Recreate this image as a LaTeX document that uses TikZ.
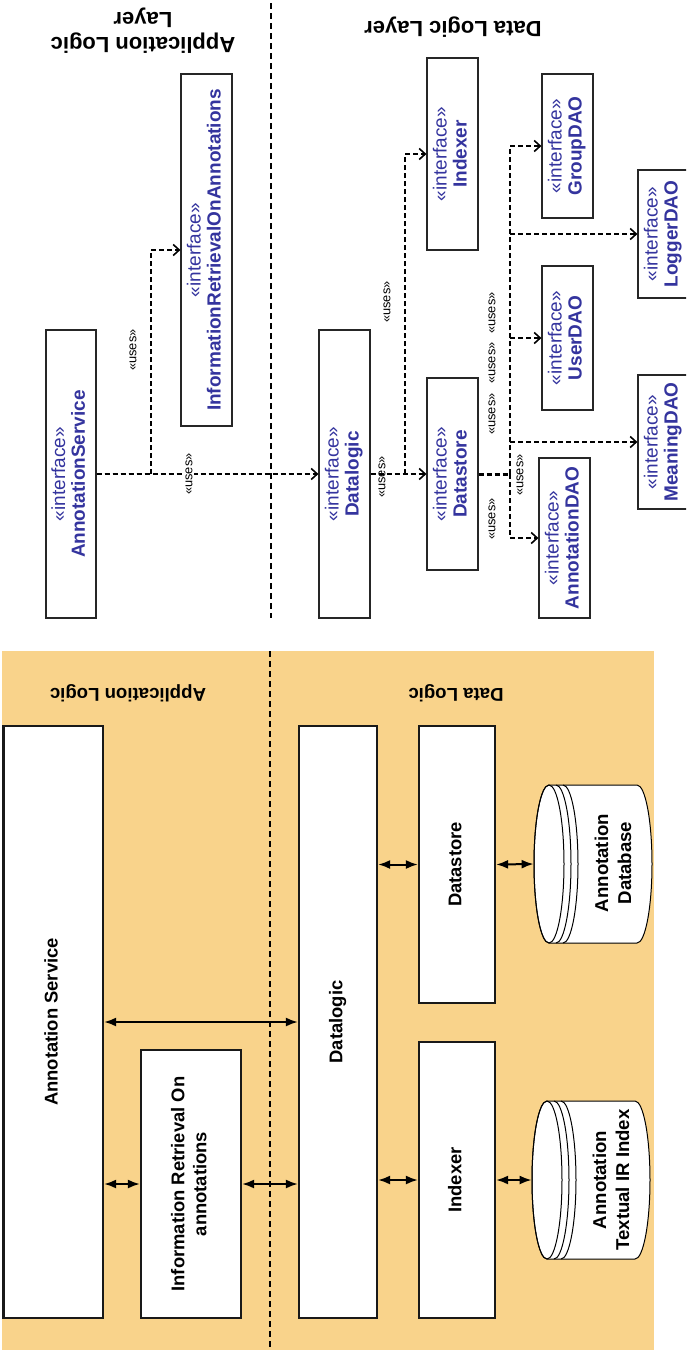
\documentclass[tikz,border=0pt]{standalone}
\usepackage{fontspec}
\setmainfont{Liberation Sans}
\usetikzlibrary{arrows.meta}
\definecolor{ifblue}{RGB}{52,52,158}
\definecolor{bgor}{RGB}{249,211,139}
\newcommand{\ifc}[1]{\rotatebox{90}{\begin{tabular}{@{}c@{}}«interface»\\\textbf{#1}\end{tabular}}}
\newcommand{\rot}[1]{\rotatebox{90}{\begin{tabular}{@{}c@{}}#1\end{tabular}}}
\newcommand{\cyl}[2]{%
  \draw[line width=0.5pt, fill=white] (#1,#2-79) -- (#1+88,#2-79)
    arc[start angle=90,end angle=-90,x radius=7.5pt,y radius=39.5pt]
    -- (#1,#2+79)
    arc[start angle=270,end angle=90,x radius=7.5pt,y radius=39.5pt] -- cycle;
  \draw[line width=0.5pt] (#1,#2) ellipse [x radius=7.5pt, y radius=39.5pt];
  \draw[line width=0.5pt] (#1+7,#2-79) arc[start angle=90,end angle=-90,x radius=7.5pt,y radius=39.5pt];
  \draw[line width=0.5pt] (#1+14,#2-79) arc[start angle=90,end angle=-90,x radius=7.5pt,y radius=39.5pt];
}
\begin{document}
\begin{tikzpicture}[x=0.5pt,y=-0.5pt,
  ifbox/.style={draw=black!85, line width=0.6pt, fill=white, inner sep=0pt, text=ifblue, font=\fontsize{9.5}{10}\selectfont},
  blbox/.style={draw=black!90, line width=1.1pt, fill=white, inner sep=0pt, font=\bfseries\fontsize{9.2}{11}\selectfont},
  uses/.style={font=\fontsize{6.4}{7}\selectfont, rotate=90, inner sep=0.5pt},
  conn/.style={line width=0.8pt, dash pattern=on 2.5pt off 1.5pt, -{Straight Barb[length=3pt,width=5.5pt]}},
  plainconn/.style={line width=0.8pt, dash pattern=on 2.5pt off 1.5pt},
  dbl/.style={line width=1pt, {Latex[length=6pt,width=4.5pt]}-{Latex[length=6pt,width=4.5pt]}},
  layerline/.style={line width=0.6pt, dash pattern=on 3pt off 2pt},
  title/.style={font=\bfseries\fontsize{11}{12.5}\selectfont, rotate=180, align=center},
  btitle/.style={font=\bfseries\fontsize{9.3}{11}\selectfont, rotate=180},
  dbtext/.style={font=\bfseries\fontsize{9.3}{11.5}\selectfont},
]
\path[use as bounding box] (0,0) rectangle (686,1350);
\clip (0,0) rectangle (686,1350);
\fill[white] (0,0) rectangle (686,1350);

% ---------------- top: UML ----------------
\node[title] (tapp) at (143,30.5) {Application Logic\\Layer};
\node[title] (tdata) at (453,27) {Data Logic Layer};
\draw[layerline] (271,3) -- (271,618);

\node[ifbox, minimum width=25pt, minimum height=144pt] (as) at (71,474) {\ifc{AnnotationService}};
\node[ifbox, minimum width=25.5pt, minimum height=176pt] (info) at (206.5,250) {\ifc{InformationRetrievalOnAnnotations}};
\node[ifbox, minimum width=25.5pt, minimum height=144pt] (dl) at (344.5,474) {\ifc{Datalogic}};
\node[ifbox, minimum width=25.5pt, minimum height=96pt] (ix) at (452.5,154) {\ifc{Indexer}};
\node[ifbox, minimum width=25.5pt, minimum height=96pt] (ds) at (452.5,474) {\ifc{Datastore}};
\node[ifbox, minimum width=25.5pt, minimum height=72pt] (grp) at (567.5,146) {\ifc{GroupDAO}};
\node[ifbox, minimum width=25.5pt, minimum height=72pt] (usr) at (567.5,338) {\ifc{UserDAO}};
\node[ifbox, minimum width=25.5pt, minimum height=80pt] (adao) at (564.5,538) {\ifc{AnnotationDAO}};
\node[ifbox, minimum width=25.5pt, minimum height=64pt] (logd) at (663.5,234) {\ifc{LoggerDAO}};
\node[ifbox, minimum width=25.5pt, minimum height=67pt] (mng) at (663.5,442) {\ifc{MeaningDAO}};

\coordinate (j1) at (151,474);
\coordinate (j2) at (405,474);
\coordinate (j3) at (510,474);

\draw[conn] (as.east) -- (dl.west);
\draw[plainconn, line width=1.2pt] (as.east) -- (j1);
\draw[conn] (j1) |- (info.west);
\draw[conn] (dl.east) -- (ds.west);
\draw[conn] (j2) |- (ix.west);
\draw[plainconn, line width=1.5pt] (ds.east) -- (j3);
\draw[conn] (j3) |- (grp.west);
\draw[conn] (j3) |- (logd.west);
\draw[conn] (j3) |- (usr.west);
\draw[conn] (j3) |- (mng.west);
\draw[conn] (j3) |- (adao.west);

\node[uses] (u1) at (133,350) {«uses»};
\node[uses, fill=white] (u2) at (189,474) {«uses»};
\node[uses] (u3) at (382,477) {«uses»};
\node[uses] (u4) at (387,302) {«uses»};
\node[uses] (u5) at (492,313) {«uses»};
\node[uses] (u6) at (492,363) {«uses»};
\node[uses] (u7) at (492,414) {«uses»};
\node[uses] (u8) at (492,519) {«uses»};
\node[uses] (u9) at (520,475) {«uses»};

% ---------------- bottom: architecture ----------------
\fill[bgor] (2,651) rectangle (654,1350);
\draw[layerline] (270,651) -- (270,1350);
\node[btitle] (bapp) at (128,693) {Application Logic};
\node[btitle] (bdata) at (456,693) {Data Logic};

\node[blbox, minimum width=49.75pt, minimum height=296pt] (bas) at (53.25,1022) {\rot{Annotation Service}};
\node[blbox, minimum width=50pt, minimum height=134pt] (bir) at (191,1184) {\rot{Information Retrieval On\\annotations}};
\node[blbox, minimum width=39pt, minimum height=296pt] (bdl) at (338,1022) {\rot{Datalogic}};
\node[blbox, minimum width=38pt, minimum height=138.5pt] (bds) at (457,864.5) {\rot{Datastore}};
\node[blbox, minimum width=38pt, minimum height=138pt] (bix) at (457,1180) {\rot{Indexer}};

\cyl{549}{864}
\node[inner sep=0pt, minimum width=59pt, minimum height=79pt] (db1) at (593,864) {};
\node[dbtext] (db1t) at (615,863) {\rot{Annotation\\Database}};
\cyl{547}{1180}
\node[inner sep=0pt, minimum width=59pt, minimum height=79pt] (db2) at (591,1180) {};
\node[dbtext] (db2t) at (613,1180) {\rot{Annotation\\Textual IR Index}};

\draw[dbl] (bas.east) -- (bdl.west);
\draw[dbl] (bas.east |- bir.west) -- (bir.west);
\draw[dbl] (bir.east) -- (bir.east -| bdl.west);
\draw[dbl] (bdl.east |- bds.west) -- (bds.west);
\draw[dbl] (bds.east) -- (db1.west);
\draw[dbl] (bdl.east |- bix.west) -- (bix.west);
\draw[dbl] (bix.east) -- (db2.west);
\end{tikzpicture}
\end{document}
